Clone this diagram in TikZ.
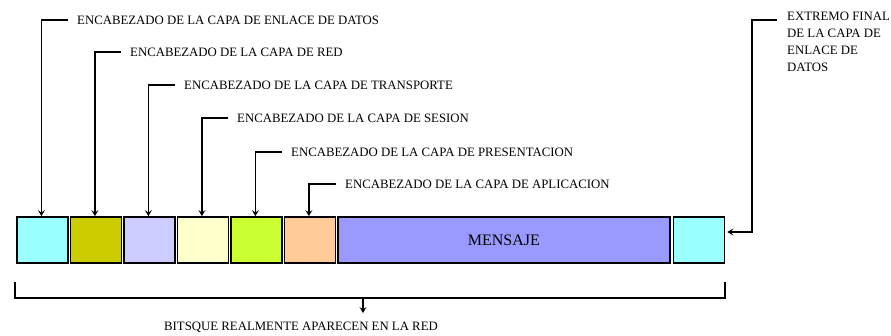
\documentclass[tikz,border=0pt]{standalone}
\usepackage{fontspec}
\setmainfont{Liberation Serif}
\usetikzlibrary{arrows.meta}
\definecolor{c1}{HTML}{99FFFF}
\definecolor{c2}{HTML}{CCCC00}
\definecolor{c3}{HTML}{CCCCFF}
\definecolor{c4}{HTML}{FFFFCC}
\definecolor{c5}{HTML}{CCFF33}
\definecolor{c6}{HTML}{FFCC99}
\definecolor{c7}{HTML}{9999FF}
\tikzset{
  seg/.style={draw=black, line width=1.8pt, minimum height=46pt, minimum width=51pt, inner sep=0pt, anchor=west},
  lbl/.style={anchor=west, inner sep=0pt, font=\fontsize{12.8}{17}\selectfont},
  arr/.style={line width=1.5pt, -{Stealth[length=6pt,width=7pt,inset=2.5pt]}},
  ln/.style={line width=1.5pt}
}
\begin{document}
\begin{tikzpicture}[x=1pt,y=-1pt]
\useasboundingbox (0,0) rectangle (891,335);
% segments
\node[seg, fill=c1] (b1) at (16,240) {};
\node[seg, fill=c2] (b2) at (69.5,240) {};
\node[seg, fill=c3] (b3) at (123,240) {};
\node[seg, fill=c4] (b4) at (176.5,240) {};
\node[seg, fill=c5] (b5) at (230,240) {};
\node[seg, fill=c6] (b6) at (283.5,240) {};
\node[seg, fill=c7, minimum width=332pt, font=\fontsize{16}{18}\selectfont] (b7) at (337,240) {MENSAJE};
\node[seg, fill=c1] (b8) at (672.5,240) {};
% labels
\node[lbl] (l1) at (77,20) {ENCABEZADO DE LA CAPA DE ENLACE DE DATOS};
\node[lbl] (l2) at (130,52) {ENCABEZADO DE LA CAPA DE RED};
\node[lbl] (l3) at (184,85) {ENCABEZADO DE LA CAPA DE TRANSPORTE};
\node[lbl] (l4) at (237,118) {ENCABEZADO DE LA CAPA DE SESION};
\node[lbl] (l5) at (291,152) {ENCABEZADO DE LA CAPA DE PRESENTACION};
\node[lbl] (l6) at (345,184) {ENCABEZADO DE LA CAPA DE APLICACION};
\node[lbl, anchor=north west, align=left] (l8) at (787,12) {EXTREMO FINAL\\DE LA CAPA DE\\ENLACE DE\\DATOS};
% connectors
\foreach \i in {1,...,6}{
  \draw[arr] ([xshift=-9pt]l\i.west) -| ([xshift=-1pt]b\i.north);
}
\coordinate (fc) at (777,20);
\draw[arr, shorten >=2pt] (fc) -- ++(-25,0) |- ([yshift=8pt]b8.east);
% bracket
\coordinate (bl) at (15,282);
\coordinate (br) at (725,282);
\coordinate (bm) at (363,298);
\draw[ln] (bl) -- (15,298) -- (725,298) -- (br);
\node[lbl, anchor=center] (bt) at (301,327) {BITSQUE REALMENTE APARECEN EN LA RED};
\draw[arr] (bm) -- (363,313);
\end{tikzpicture}
\end{document}
